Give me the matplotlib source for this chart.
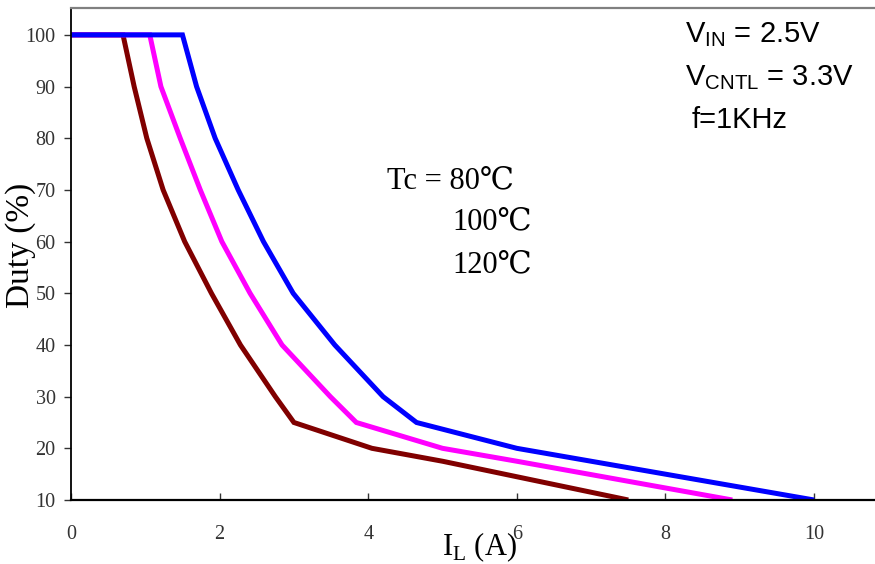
import matplotlib
matplotlib.use("Agg")
import matplotlib.pyplot as plt

# Data (I_L in A, Duty in %)
x_80 = [0, 0.70, 0.85, 1.02, 1.24, 1.53, 1.89, 2.28, 2.75, 3.0, 4.05, 5.0, 6.0, 7.5]
y_80 = [100, 100, 90, 80, 70, 60, 50, 40, 30, 25, 20, 17.5, 14.5, 10]

x_100 = [0, 1.06, 1.21, 1.47, 1.74, 2.03, 2.41, 2.84, 3.49, 3.84, 5.0, 6.0, 8.9]
y_100 = [100, 100, 90, 80, 70, 60, 50, 40, 30, 25, 20, 17.5, 10]

x_120 = [0, 1.50, 1.69, 1.94, 2.25, 2.59, 2.99, 3.55, 4.2, 4.65, 6.0, 10.0]
y_120 = [100, 100, 90, 80, 70, 60, 50, 40, 30, 25, 20, 10]

xticks = [0, 2, 4, 6, 8, 10]
yticks = [10, 20, 30, 40, 50, 60, 70, 80, 90, 100]

W, H = 875, 564
fig = plt.figure(figsize=(W / 100, H / 100), dpi=100)
ax = fig.add_axes([71 / W, 1 - 500 / H, 1 - 71 / W, (500 - 8) / H])

serif = ['Liberation Serif', 'DejaVu Serif', 'Noto Sans CJK JP']

ax.plot(x_80, y_80, color='#800000', lw=3.6, solid_capstyle='butt', solid_joinstyle='miter')
ax.plot(x_100, y_100, color='#FF00FF', lw=3.6, solid_capstyle='butt', solid_joinstyle='miter')
ax.plot(x_120, y_120, color='#0000FF', lw=3.6, solid_capstyle='butt', solid_joinstyle='miter')

ax.set_xlim(0, 10.82)
ax.set_ylim(10, 105.2)
ax.set_xticks(xticks)
ax.set_yticks(yticks)
ax.set_xticklabels([str(t) for t in xticks], family=serif, fontsize=14.5, color='#333333')
ax.set_yticklabels([str(t) for t in yticks], family=serif, fontsize=14.5, color='#333333')
ax.tick_params(axis='x', direction='in', length=5, width=1, pad=18, color='#333333')
ax.tick_params(axis='y', direction='out', length=5, width=1, pad=6, color='#333333')

ax.spines['right'].set_visible(False)
ax.spines['top'].set_color('#808080')
ax.spines['top'].set_linewidth(1.6)
ax.spines['left'].set_linewidth(1.3)
ax.spines['bottom'].set_linewidth(1.6)

ax.set_ylabel('Duty (%)', family=serif, fontsize=24, va='center')
ax.yaxis.set_label_coords(-(71 - 21) / (W - 71), (500 - 245) / 492)
ax.set_xlabel(r'I$_\mathregular{L}$ (A)', family=serif, fontsize=22, va='baseline')
ax.xaxis.set_label_coords((479 - 71) / (W - 71), -(555 - 500) / 492)

# Annotations
sans = 'Liberation Sans'
fig.text(685 / W, 1 - 42 / H, r'V$_\mathregular{IN}$ = 2.5V', family=sans, fontsize=21, va='baseline')
fig.text(685 / W, 1 - 85 / H, r'V$_\mathregular{CNTL}$ = 3.3V', family=sans, fontsize=21, va='baseline')
fig.text(692 / W, 1 - 128 / H, 'f=1KHz', family=sans, fontsize=21, va='baseline')

fig.text(387 / W, 1 - 188 / H, 'Tc = 80℃', family=serif, fontsize=22, va='baseline')
fig.text(452 / W, 1 - 229 / H, '100℃', family=serif, fontsize=22, va='baseline')
fig.text(452 / W, 1 - 272 / H, '120℃', family=serif, fontsize=22, va='baseline')

fig.savefig('out.png', dpi=100)
